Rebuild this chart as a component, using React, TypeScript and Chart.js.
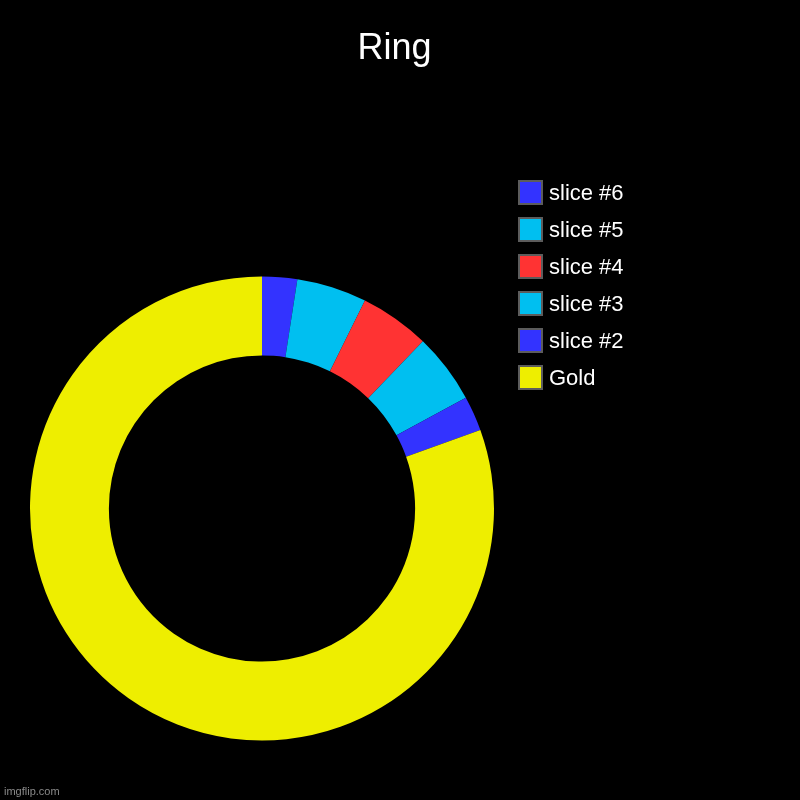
import { useEffect, useRef } from "react";
import Chart from "chart.js/auto";

const chartTitle = "Ring";
const sliceLabels = ["slice #6", "slice #5", "slice #4", "slice #3", "slice #2", "Gold"];
const sliceValues = [1, 2, 2, 2, 1, 33];
const sliceColors = ["#3333ff", "#00bff0", "#ff3333", "#00bff0", "#3333ff", "#eeee00"];

const FONT = "'Liberation Sans', Arial, Helvetica, sans-serif";

// title, legend and watermark drawn on the chart canvas
const decorPlugin = {
  id: "ringDecor",
  beforeDraw(chart: any) {
    const ctx = chart.ctx;
    ctx.save();
    ctx.fillStyle = "#000";
    ctx.fillRect(0, 0, chart.width, chart.height);
    ctx.restore();
  },
  afterDraw(chart: any) {
    const ctx = chart.ctx;
    const ds = chart.data.datasets[0];
    ctx.save();

    ctx.fillStyle = "#fff";
    ctx.font = `36px ${FONT}`;
    ctx.textAlign = "center";
    ctx.textBaseline = "alphabetic";
    ctx.fillText(chartTitle, 394.5, 59);

    ctx.font = `22px ${FONT}`;
    ctx.textAlign = "left";
    (chart.data.labels as string[]).forEach((label, i) => {
      const top = 180 + i * 37;
      ctx.fillStyle = ds.backgroundColor[i];
      ctx.fillRect(519, top + 1, 23, 23);
      ctx.strokeStyle = "#5c5c5c";
      ctx.lineWidth = 2;
      ctx.strokeRect(519, top + 1, 23, 23);
      ctx.fillStyle = "#fff";
      ctx.fillText(label, 549, top + 19.5);
    });

    ctx.fillStyle = "#8a8a8a";
    ctx.font = `11px ${FONT}`;
    ctx.fillText("imgflip.com", 4, 795);
    ctx.restore();
  },
};

export default function App() {
  const canvasRef = useRef<HTMLCanvasElement>(null);

  useEffect(() => {
    let chart: Chart | null = null;
    if (canvasRef.current) {
      chart = new Chart(canvasRef.current, {
        type: "doughnut",
        data: {
          labels: sliceLabels,
          datasets: [{
            data: sliceValues,
            backgroundColor: sliceColors,
            borderWidth: 0,
          }],
        },
        options: {
          animation: false,
          responsive: true,
          maintainAspectRatio: false,
          cutout: "66%",
          layout: { padding: { left: 30, right: 306, top: 276, bottom: 59 } },
          plugins: {
            legend: { display: false },
            title: { display: false },
            tooltip: { enabled: false },
          },
        },
        plugins: [decorPlugin],
      });
    }
    return () => {
      if (chart) chart.destroy();
    };
  }, []);

  return (
    <div style={{ position: "fixed", left: 0, top: 0, width: "800px", height: "800px", background: "#000" }}>
      <canvas ref={canvasRef}></canvas>
    </div>
  );
}
